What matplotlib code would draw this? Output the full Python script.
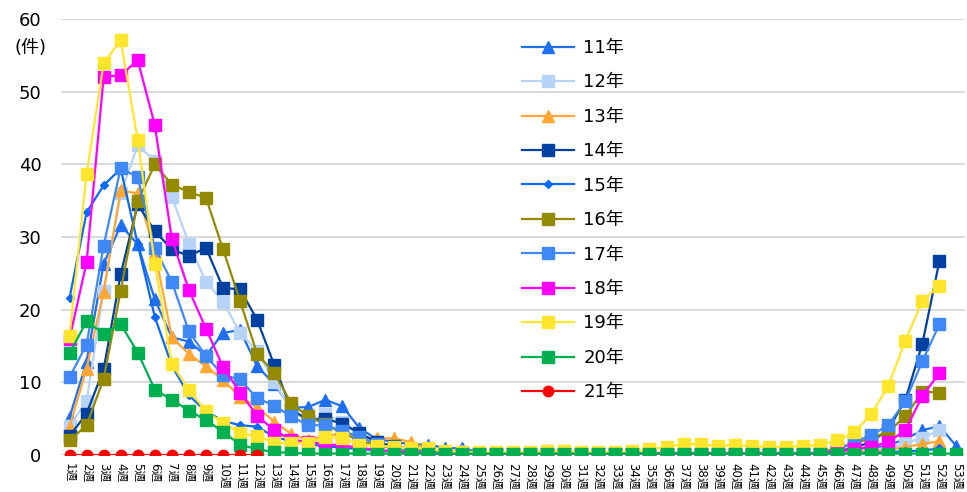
import numpy as np
import matplotlib
matplotlib.use("Agg")
from matplotlib import pyplot as plt

nan = np.nan

# weekly counts, weeks 1-53
weeks = [f"{i}週" for i in range(1, 54)]
labels = ["11年", "12年", "13年", "14年", "15年", "16年", "17年", "18年", "19年", "20年", "21年"]

y11 = [5.2, 12.8, 26.3, 31.6, 29.0, 21.4, 16.2, 15.6, 13.7, 16.8, 17.2, 12.2, 9.8, 6.5, 6.6, 7.6, 6.7, 3.7, 2.2, 1.8,
       1.5, 1.4, 1.0, 0.9, 0.4, 0.3, 0.2, 0.2, 0.3, 0.3, 0.2, 0.2, 0.2, 0.2, 0.2, 0.2, 0.2, 0.2, 0.2, 0.2,
       0.2, 0.2, 0.2, 0.2, 0.3, 0.5, 0.8, 1.0, 1.3, 2.2, 3.4, 4.0, 1.2]
y12 = [4.0, 7.4, 22.6, 36.0, 42.6, 40.5, 35.5, 29.1, 23.8, 21.1, 16.8, 14.3, 10.1, 6.2, 4.6, 5.6, 4.6, 3.0, 1.8, 1.2,
       0.8, 0.6, 0.4, 0.4, 0.3, 0.3, 0.3, 0.3, 0.6, 0.6, 0.3, 0.3, 0.3, 0.3, 0.3, 0.3, 0.3, 0.3, 0.3, 0.3,
       0.3, 0.3, 0.3, 0.3, 0.3, 0.4, 0.5, 0.7, 0.9, 1.6, 2.4, 3.4, nan]
y13 = [3.9, 11.9, 22.5, 36.4, 36.0, 28.0, 16.2, 13.9, 12.2, 10.3, 8.0, 6.6, 4.6, 2.9, 2.1, 2.6, 3.0, 2.6, 2.3, 2.3,
       1.8, 0.8, 0.6, 0.5, 0.3, 0.3, 0.3, 0.3, 0.3, 0.3, 0.3, 0.3, 0.3, 0.3, 0.3, 0.3, 0.3, 0.3, 0.3, 0.3,
       0.3, 0.3, 0.3, 0.3, 0.3, 0.3, 0.4, 0.5, 0.7, 1.1, 1.5, 1.9, nan]
y14 = [2.6, 5.7, 11.8, 24.9, 34.5, 30.8, 28.3, 27.4, 28.5, 23.0, 22.8, 18.6, 12.4, 6.3, 4.8, 5.0, 4.3, 3.0, 1.8, 1.2,
       0.8, 0.5, 0.3, 0.3, 0.2, 0.2, 0.2, 0.2, 0.2, 0.2, 0.2, 0.2, 0.2, 0.2, 0.2, 0.2, 0.2, 0.2, 0.2, 0.2,
       0.2, 0.2, 0.2, 0.2, 0.3, 0.5, 1.0, 1.8, 3.5, 7.6, 15.3, 26.7, nan]
y15 = [21.6, 33.4, 37.1, 39.4, 29.0, 19.0, 12.3, 8.2, 6.0, 4.7, 4.1, 3.9, 2.5, 1.9, 1.5, 1.2, 1.0, 0.8, 0.6, 0.5,
       0.4, 0.3, 0.2, 0.2, 0.1, 0.1, 0.1, 0.1, 0.1, 0.1, 0.1, 0.1, 0.1, 0.1, 0.1, 0.1, 0.1, 0.1, 0.1, 0.1,
       0.1, 0.1, 0.1, 0.1, 0.1, 0.2, 0.2, 0.3, 0.4, 0.5, 0.6, 0.9, nan]
y16 = [2.0, 4.1, 10.5, 22.6, 34.9, 40.0, 37.2, 36.2, 35.4, 28.3, 21.2, 13.9, 11.3, 7.1, 5.3, 4.2, 3.0, 2.0, 1.3, 1.0,
       0.7, 0.5, 0.3, 0.3, 0.2, 0.2, 0.2, 0.2, 0.2, 0.2, 0.2, 0.2, 0.2, 0.2, 0.2, 0.2, 0.2, 0.2, 0.2, 0.2,
       0.2, 0.2, 0.2, 0.2, 0.3, 1.0, 1.6, 2.3, 3.2, 5.3, 8.7, 8.6, nan]
y17 = [10.7, 15.2, 28.8, 39.5, 38.2, 28.5, 23.8, 17.0, 13.6, 11.0, 10.4, 7.8, 6.8, 5.3, 4.1, 4.1, 3.3, 2.5, 1.5, 1.0,
       0.6, 0.4, 0.3, 0.3, 0.2, 0.2, 0.2, 0.2, 0.2, 0.2, 0.2, 0.2, 0.2, 0.2, 0.2, 0.2, 0.2, 0.2, 0.2, 0.2,
       0.2, 0.2, 0.2, 0.2, 0.3, 0.6, 1.8, 2.7, 4.1, 7.4, 12.9, 18.0, nan]
y18 = [16.0, 26.5, 52.0, 52.3, 54.3, 45.4, 29.7, 22.7, 17.4, 12.1, 8.6, 5.4, 3.4, 2.1, 1.8, 1.5, 1.3, 1.0, 0.7, 0.5,
       0.4, 0.2, 0.1, 0.1, 0.1, 0.1, 0.1, 0.1, 0.1, 0.1, 0.1, 0.1, 0.1, 0.1, 0.1, 0.1, 0.1, 0.1, 0.1, 0.1,
       0.1, 0.1, 0.1, 0.1, 0.2, 0.5, 0.8, 1.1, 1.8, 3.4, 8.1, 11.3, nan]
y19 = [16.4, 38.7, 53.9, 57.1, 43.3, 26.3, 12.5, 9.0, 6.0, 4.4, 3.0, 2.6, 1.7, 1.6, 1.7, 2.5, 2.3, 1.4, 1.3, 1.1,
       0.9, 0.9, 0.5, 0.4, 0.4, 0.4, 0.4, 0.4, 0.5, 0.5, 0.4, 0.4, 0.4, 0.5, 0.8, 1.1, 1.5, 1.5, 1.2, 1.4,
       1.2, 1.1, 1.1, 1.2, 1.4, 2.0, 3.1, 5.6, 9.5, 15.7, 21.2, 23.3, nan]
y20 = [14.0, 18.4, 16.7, 18.0, 14.1, 9.0, 7.6, 6.1, 4.8, 3.2, 1.4, 0.8, 0.4, 0.3, 0.2, 0.2, 0.2, 0.2, 0.2, 0.2,
       0.2, 0.2, 0.2, 0.2, 0.2, 0.2, 0.2, 0.2, 0.2, 0.2, 0.2, 0.2, 0.2, 0.2, 0.2, 0.2, 0.2, 0.2, 0.2, 0.2,
       0.2, 0.2, 0.2, 0.2, 0.2, 0.2, 0.2, 0.2, 0.2, 0.2, 0.2, 0.2, 0.2]
y21 = [0, 0, 0, 0, 0, 0, 0, 0, 0, 0, 0, 0] + [nan] * 41

series = [y11, y12, y13, y14, y15, y16, y17, y18, y19, y20, y21]
colors = ["#1F6FF2", "#B8D3F8", "#FFA733", "#0040A0", "#0A6AF5", "#948A00",
          "#3F88F6", "#FF00FF", "#FFE52C", "#00B050", "#FF0000"]
markers = ["^", "s", "^", "s", "D", "s", "s", "s", "s", "s", "o"]
msizes = [8, 8, 8, 8, 4.5, 8, 8, 8, 8, 8, 7.5]

plt.rcParams["font.family"] = ["DejaVu Sans", "Noto Sans CJK JP"]

fig = plt.figure(figsize=(9.67, 4.92), dpi=100)
ax = fig.add_axes([61 / 967, 37 / 492, 904 / 967, 436 / 492])

x = np.arange(1, 54)
for ys, c, m, ms, lab in zip(series, colors, markers, msizes, labels):
    ax.plot(x, ys, color=c, marker=m, markersize=ms, linewidth=1.6, label=lab)

ax.set_xlim(0.5, 53.5)
ax.set_ylim(0, 60)
ax.set_yticks(range(0, 61, 10))
ax.set_xticks(x)
ax.set_xticklabels(weeks, rotation=-90, fontsize=8.5, va="top", ha="center")
ax.tick_params(axis="y", length=0, pad=14, labelsize=13)
ax.tick_params(axis="x", length=0, pad=6)
ax.grid(axis="y", color="#D9D9D9", linewidth=1.4)
ax.set_axisbelow(True)
for s in ax.spines.values():
    s.set_visible(False)

fig.text(31 / 967, 1 - 48 / 492, "(件)", fontsize=13, ha="center", va="center")

ax.legend(loc="upper left", bbox_to_anchor=(522 / 967, 1 - 39 / 492), bbox_transform=fig.transFigure,
          frameon=False, fontsize=13, handlelength=2.9, handletextpad=0.5, labelspacing=0.91,
          borderpad=0, borderaxespad=0)

fig.savefig("out.png", dpi=100)
